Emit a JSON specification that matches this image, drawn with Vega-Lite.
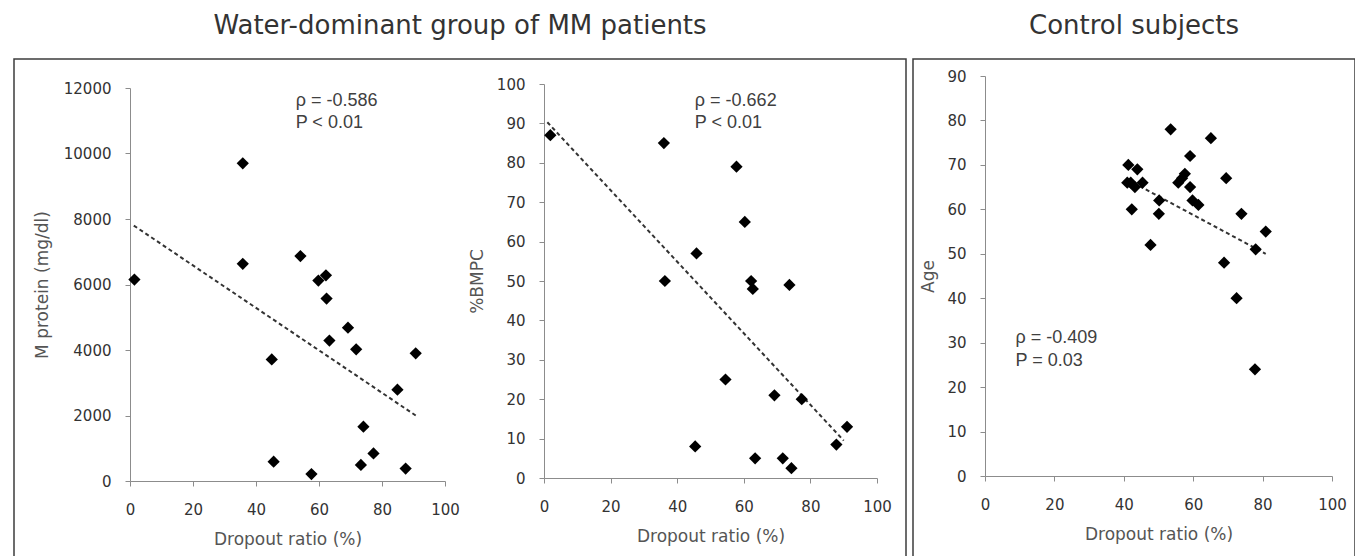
{
  "$schema": "https://vega.github.io/schema/vega-lite/v6.json",
  "padding": {"left": 13, "top": 12, "right": 0, "bottom": 0},
  "background": "white",
  "spacing": 5,
  "config": {
    "view": {"stroke": "#3c3c3c", "strokeWidth": 1.5},
    "axis": {"grid": false, "labelFlush": false, "labelOverlap": false, "domainColor": "#8c8c8c", "tickColor": "#8c8c8c", "tickSize": 5, "labelFont": "DejaVu Sans", "labelFontSize": 15, "labelColor": "#333333", "titleFont": "DejaVu Sans", "titleFontSize": 17, "titleFontWeight": "normal", "titleColor": "#555555"},
    "title": {"font": "DejaVu Sans", "fontSize": 26, "fontWeight": "normal", "color": "#333333", "offset": 20}
  },
  "datasets": {
    "p1": [
      {"x": 1.4, "y": 6150}, {"x": 35.8, "y": 9700}, {"x": 35.8, "y": 6630}, {"x": 45.0, "y": 3710},
      {"x": 45.6, "y": 590}, {"x": 54.1, "y": 6870}, {"x": 57.6, "y": 210}, {"x": 59.8, "y": 6120},
      {"x": 62.2, "y": 6280}, {"x": 62.4, "y": 5570}, {"x": 63.3, "y": 4290}, {"x": 69.2, "y": 4680},
      {"x": 71.8, "y": 4020}, {"x": 74.1, "y": 1660}, {"x": 73.3, "y": 490}, {"x": 77.3, "y": 840},
      {"x": 84.9, "y": 2790}, {"x": 87.5, "y": 380}, {"x": 90.7, "y": 3900}
    ],
    "p1l": [{"x": 1.2, "y": 7800}, {"x": 90.7, "y": 2000}],
    "p1t": [{"x": 52.6, "y": 11600, "label": "ρ = -0.586"}, {"x": 52.6, "y": 10940, "label": "P < 0.01"}],
    "p2": [
      {"x": 1.9, "y": 87}, {"x": 36.0, "y": 85}, {"x": 36.3, "y": 50}, {"x": 45.8, "y": 57},
      {"x": 45.4, "y": 8}, {"x": 54.5, "y": 25}, {"x": 57.8, "y": 79}, {"x": 60.3, "y": 65},
      {"x": 62.2, "y": 50}, {"x": 62.7, "y": 48}, {"x": 63.4, "y": 5}, {"x": 69.2, "y": 21},
      {"x": 73.7, "y": 49}, {"x": 71.7, "y": 5}, {"x": 74.3, "y": 2.5}, {"x": 77.4, "y": 20},
      {"x": 87.8, "y": 8.5}, {"x": 91.0, "y": 13}
    ],
    "p2l": [{"x": 1.0, "y": 90.3}, {"x": 90.0, "y": 9.5}],
    "p2t": [{"x": 45.3, "y": 95.8, "label": "ρ = -0.662"}, {"x": 45.3, "y": 90.2, "label": "P < 0.01"}],
    "p3": [
      {"x": 41.3, "y": 70}, {"x": 41.0, "y": 66}, {"x": 42.0, "y": 66}, {"x": 43.9, "y": 69},
      {"x": 43.2, "y": 65}, {"x": 45.4, "y": 66}, {"x": 42.3, "y": 60}, {"x": 47.7, "y": 52},
      {"x": 50.2, "y": 62}, {"x": 50.1, "y": 59}, {"x": 53.5, "y": 78}, {"x": 55.7, "y": 66},
      {"x": 56.8, "y": 67}, {"x": 57.6, "y": 68}, {"x": 59.1, "y": 72}, {"x": 59.1, "y": 65},
      {"x": 59.8, "y": 62}, {"x": 61.5, "y": 61}, {"x": 65.1, "y": 76}, {"x": 69.5, "y": 67},
      {"x": 68.9, "y": 48}, {"x": 72.5, "y": 40}, {"x": 73.9, "y": 59}, {"x": 78.0, "y": 51},
      {"x": 80.9, "y": 55}, {"x": 77.8, "y": 24}
    ],
    "p3l": [{"x": 41.0, "y": 66.7}, {"x": 80.9, "y": 50.0}],
    "p3t": [{"x": 8.8, "y": 31.1, "label": "ρ = -0.409"}, {"x": 8.8, "y": 25.9, "label": "P = 0.03"}]
  },
  "hconcat": [
    {
      "title": "Water-dominant group of MM patients",
      "width": 892,
      "height": 500,
      "layer": [
        {
          "layer": [
            {
              "data": {"name": "p1l"},
              "mark": {"type": "line", "strokeDash": [4, 3], "strokeWidth": 2, "color": "#333333"},
              "encoding": {
                "x": {"field": "x", "type": "quantitative", "scale": {"domain": [0, 100], "range": [116, 431], "nice": false}, "axis": {"title": "Dropout ratio (%)", "values": [0, 20, 40, 60, 80, 100], "orient": "bottom", "offset": -78, "labelPadding": 16, "titlePadding": 14}},
                "y": {"field": "y", "type": "quantitative", "scale": {"domain": [0, 12000], "range": [422, 29], "nice": false}, "axis": {"title": "M protein (mg/dl)", "format": "d", "values": [0, 2000, 4000, 6000, 8000, 10000, 12000], "orient": "left", "offset": -116, "labelPadding": 14, "titlePadding": 12}}
              }
            },
            {
              "data": {"name": "p1"},
              "mark": {"type": "point", "shape": "diamond", "filled": true, "size": 150, "color": "black", "opacity": 1},
              "encoding": {"x": {"field": "x", "type": "quantitative"}, "y": {"field": "y", "type": "quantitative"}}
            },
            {
              "data": {"name": "p1t"},
              "mark": {"type": "text", "align": "left", "baseline": "middle", "fontSize": 18, "font": "Liberation Sans", "color": "#404040"},
              "encoding": {"x": {"field": "x", "type": "quantitative"}, "y": {"field": "y", "type": "quantitative"}, "text": {"field": "label"}}
            }
          ]
        },
        {
          "layer": [
            {
              "data": {"name": "p2l"},
              "mark": {"type": "line", "strokeDash": [4, 3], "strokeWidth": 2, "color": "#333333"},
              "encoding": {
                "x": {"field": "x", "type": "quantitative", "scale": {"domain": [0, 100], "range": [530, 863], "nice": false}, "axis": {"title": "Dropout ratio (%)", "values": [0, 20, 40, 60, 80, 100], "orient": "bottom", "offset": -81, "labelPadding": 16, "titlePadding": 14}},
                "y": {"field": "y", "type": "quantitative", "scale": {"domain": [0, 100], "range": [419, 25], "nice": false}, "axis": {"title": "%BMPC", "values": [0, 10, 20, 30, 40, 50, 60, 70, 80, 90, 100], "orient": "left", "offset": -530, "labelPadding": 14, "titlePadding": 10}}
              }
            },
            {
              "data": {"name": "p2"},
              "mark": {"type": "point", "shape": "diamond", "filled": true, "size": 150, "color": "black", "opacity": 1},
              "encoding": {"x": {"field": "x", "type": "quantitative"}, "y": {"field": "y", "type": "quantitative"}}
            },
            {
              "data": {"name": "p2t"},
              "mark": {"type": "text", "align": "left", "baseline": "middle", "fontSize": 18, "font": "Liberation Sans", "color": "#404040"},
              "encoding": {"x": {"field": "x", "type": "quantitative"}, "y": {"field": "y", "type": "quantitative"}, "text": {"field": "label"}}
            }
          ]
        }
      ],
      "resolve": {"scale": {"x": "independent", "y": "independent"}, "axis": {"x": "independent", "y": "independent"}}
    },
    {
      "title": "Control subjects",
      "width": 442,
      "height": 500,
      "layer": [
        {
          "data": {"name": "p3l"},
          "mark": {"type": "line", "strokeDash": [4, 3], "strokeWidth": 2, "color": "#333333"},
          "encoding": {
            "x": {"field": "x", "type": "quantitative", "scale": {"domain": [0, 100], "range": [72, 419], "nice": false}, "axis": {"title": "Dropout ratio (%)", "values": [0, 20, 40, 60, 80, 100], "orient": "bottom", "offset": -83, "labelPadding": 16, "titlePadding": 14}},
            "y": {"field": "y", "type": "quantitative", "scale": {"domain": [0, 90], "range": [417, 17], "nice": false}, "axis": {"title": "Age", "values": [0, 10, 20, 30, 40, 50, 60, 70, 80, 90], "orient": "left", "offset": -72, "labelPadding": 14, "titlePadding": 9}}
          }
        },
        {
          "data": {"name": "p3"},
          "mark": {"type": "point", "shape": "diamond", "filled": true, "size": 150, "color": "black", "opacity": 1},
          "encoding": {"x": {"field": "x", "type": "quantitative"}, "y": {"field": "y", "type": "quantitative"}}
        },
        {
          "data": {"name": "p3t"},
          "mark": {"type": "text", "align": "left", "baseline": "middle", "fontSize": 18, "font": "Liberation Sans", "color": "#404040"},
          "encoding": {"x": {"field": "x", "type": "quantitative"}, "y": {"field": "y", "type": "quantitative"}, "text": {"field": "label"}}
        }
      ]
    }
  ]
}
